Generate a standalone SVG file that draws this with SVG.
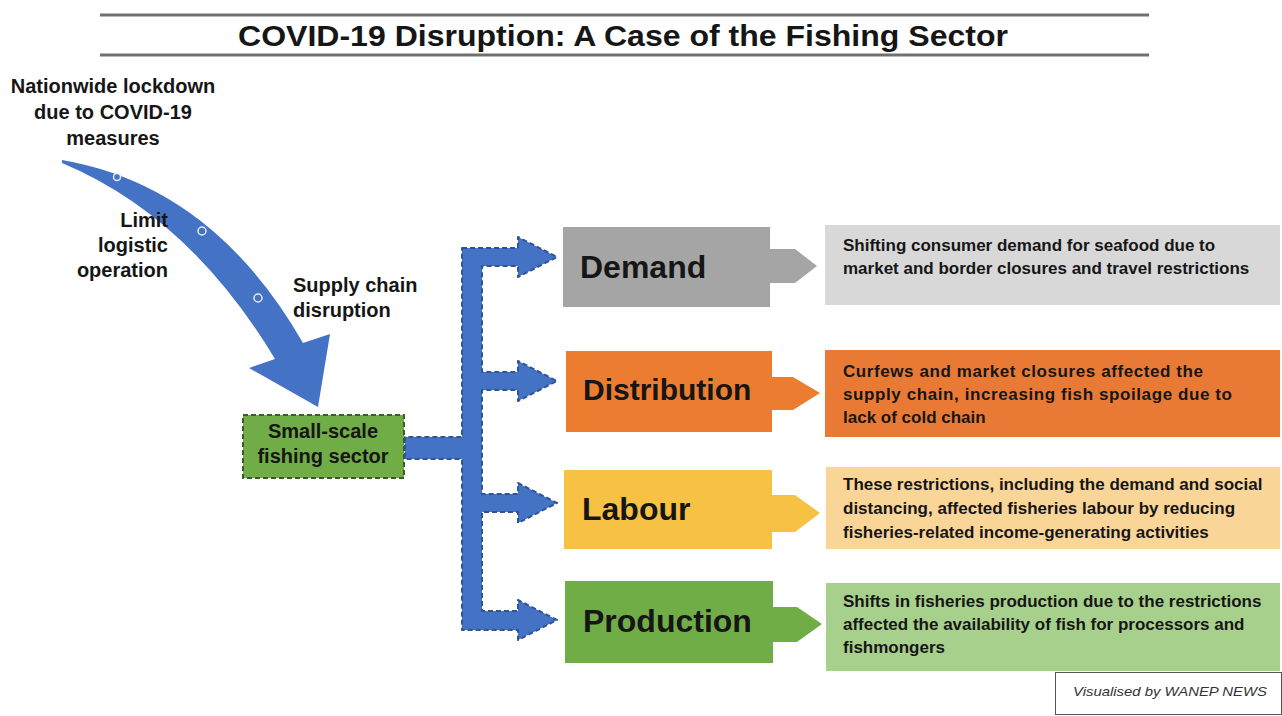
<svg xmlns="http://www.w3.org/2000/svg" width="1282" height="716" viewBox="0 0 1282 716">
<style>
text{font-family:"Liberation Sans",Arial,sans-serif;font-weight:bold;fill:#161616}
.lbl{font-size:20px}
.big{font-size:32px}
.desc{font-size:17px}
.rule{stroke:#707070;stroke-width:3}
.dot{fill:#4472c4;stroke:#e4ecf8;stroke-width:1.5}
.credit{font-size:13px;font-style:italic;font-weight:normal;fill:#333333}
</style>
<rect width="1282" height="716" fill="#ffffff"/>
<g id="title">
<line class="rule" x1="100" y1="15" x2="1149" y2="15"/>
<line class="rule" x1="100" y1="55" x2="1149" y2="55"/>
<text x="238" y="46" font-size="29" textLength="770" lengthAdjust="spacingAndGlyphs">COVID-19 Disruption: A Case of the Fishing Sector</text>
</g>
<g id="lockdown">
<text class="lbl" x="113" y="93" text-anchor="middle">Nationwide lockdown</text>
<text class="lbl" x="113" y="119" text-anchor="middle">due to COVID-19</text>
<text class="lbl" x="113" y="145" text-anchor="middle">measures</text>
</g>
<g id="curved-arrow">
<path d="M62,160 Q213,186 303,343 L330,334 L318,407 L249,368 L275,359 Q189,216 62,163 Z" fill="#4472c4"/>
<circle class="dot" cx="117" cy="177" r="3.5"/>
<circle class="dot" cx="202" cy="231" r="4"/>
<circle class="dot" cx="258" cy="298" r="4"/>
</g>
<g id="limit-label">
<text class="lbl" x="168" y="227" text-anchor="end">Limit</text>
<text class="lbl" x="168" y="252" text-anchor="end">logistic</text>
<text class="lbl" x="168" y="277" text-anchor="end">operation</text>
</g>
<g id="supply-label">
<text class="lbl" x="293" y="292">Supply chain</text>
<text class="lbl" x="293" y="317">disruption</text>
</g>
<g id="small-scale">
<rect x="243" y="415" width="161" height="63" fill="#70ad47" stroke="#3b5e25" stroke-width="2" stroke-dasharray="5 3"/>
<text class="lbl" x="323" y="438" text-anchor="middle">Small-scale</text>
<text class="lbl" x="323" y="463" text-anchor="middle">fishing sector</text>
</g>
<g id="connectors">
<path d="M462,248 L518,248 L518,237 L557,257 L518,277 L518,266 L482,266 L482,372 L518,372 L518,361 L557,381 L518,401 L518,390 L482,390 L482,494 L518,494 L518,483 L557,503 L518,523 L518,512 L482,512 L482,611 L518,611 L518,600 L557,620 L518,640 L518,630 L462,630 L462,459 L405,459 L405,437 L462,437 Z" fill="#4472c4" stroke="#2f5597" stroke-width="2" stroke-dasharray="5 3" stroke-linejoin="round"/>
</g>
<g id="demand">
<rect x="563" y="227" width="207" height="80" fill="#a5a5a5"/>
<path d="M770,249 L795,249 L817,266 L795,283 L770,283 Z" fill="#a5a5a5"/>
<text class="big" x="580" y="278">Demand</text>
</g>
<g id="demand-desc">
<rect x="825" y="225" width="455" height="80" fill="#d8d8d8"/>
<text class="desc" x="843" y="251">Shifting consumer demand for seafood due to</text>
<text class="desc" x="843" y="274">market and border closures and travel restrictions</text>
</g>
<g id="distribution">
<rect x="566" y="351" width="206" height="81" fill="#ec7c30"/>
<path d="M772,377 L793,377 L820,393 L793,410 L772,410 Z" fill="#ec7c30"/>
<text x="583" y="400" font-size="30">Distribution</text>
</g>
<g id="distribution-desc">
<rect x="825" y="350" width="455" height="87" fill="#e97a35"/>
<text class="desc" x="843" y="377" textLength="360" lengthAdjust="spacing">Curfews and market closures affected the</text>
<text class="desc" x="843" y="400" textLength="389" lengthAdjust="spacing">supply chain, increasing fish spoilage due to</text>
<text class="desc" x="843" y="423">lack of cold chain</text>
</g>
<g id="labour">
<rect x="564" y="470" width="208" height="79" fill="#f7c143"/>
<path d="M772,495 L795,495 L820,513 L795,532 L772,532 Z" fill="#f7c143"/>
<text class="big" x="582" y="520">Labour</text>
</g>
<g id="labour-desc">
<rect x="826" y="467" width="454" height="82" fill="#fad598"/>
<text class="desc" x="843" y="490">These restrictions, including the demand and social</text>
<text class="desc" x="843" y="514">distancing, affected fisheries labour by reducing</text>
<text class="desc" x="843" y="538">fisheries-related income-generating activities</text>
</g>
<g id="production">
<rect x="565" y="581" width="208" height="82" fill="#70ad47"/>
<path d="M773,607 L797,607 L822,624 L797,642 L773,642 Z" fill="#70ad47"/>
<text class="big" x="583" y="632">Production</text>
</g>
<g id="production-desc">
<rect x="826" y="583" width="454" height="88" fill="#a8d08d"/>
<text class="desc" x="843" y="607">Shifts in fisheries production due to the restrictions</text>
<text class="desc" x="843" y="630">affected the availability of fish for processors and</text>
<text class="desc" x="843" y="653">fishmongers</text>
</g>
<g id="credit">
<rect x="1055.5" y="672.5" width="226" height="42" fill="#ffffff" stroke="#555555" stroke-width="1"/>
<text class="credit" x="1073" y="696" textLength="194" lengthAdjust="spacingAndGlyphs">Visualised by WANEP NEWS</text>
</g>
</svg>
